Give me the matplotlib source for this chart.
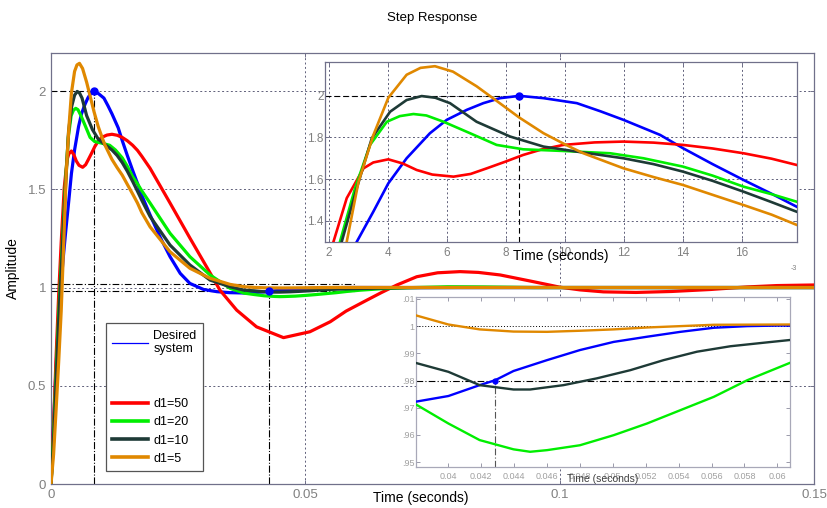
import numpy as np
import matplotlib
matplotlib.use('Agg')
import matplotlib.pyplot as plt
from matplotlib.lines import Line2D

plt.rcParams['font.family'] = ['Liberation Sans', 'DejaVu Sans']

# step responses (time in ms, amplitude)
t_blue = [0, 0.5, 1.0, 1.5, 2.0, 2.5, 2.94, 3.5, 4.01, 4.63, 5.42, 5.99, 6.67, 7.23, 7.8, 8.45,
          9.27, 10.4, 11.2, 11.98, 13.22, 14.0, 15.0, 16.05, 17.0, 17.85, 19.47, 21.4, 23.4,
          25.4, 27.3, 30, 32.6, 35, 38, 40, 41.9, 42.84, 43.96, 46, 48, 50.05, 52.08, 54.11,
          56.14, 58.17, 60, 70, 150]
y_blue = [0, 0.3, 0.6, 0.85, 1.03, 1.18, 1.30, 1.444, 1.58, 1.70, 1.82, 1.884, 1.932, 1.964,
          1.988, 1.999, 1.988, 1.964, 1.925, 1.884, 1.812, 1.748, 1.672, 1.596, 1.53, 1.468,
          1.37, 1.259, 1.157, 1.072, 1.021, 0.99, 0.979, 0.974, 0.9722, 0.9743, 0.9783, 0.9801,
          0.9835, 0.9875, 0.9912, 0.9942, 0.9961, 0.9979, 0.9994, 1.0, 1.0002, 1.0, 1.0]

t_red = [0, 0.5, 1.0, 1.5, 2.0, 2.15, 2.6, 3.17, 3.5, 4.01, 4.5, 4.97, 5.5, 6.22, 6.8, 7.35,
         8.0, 8.58, 9.2, 9.94, 11.0, 11.98, 13.0, 14.0, 15.0, 16.05, 17.0, 17.85, 19.47, 23.4,
         27.3, 31.26, 33.2, 36.5, 40.4, 45.7, 50.9, 54.9, 58, 62.1, 65, 68, 71.9, 76, 80.4, 84,
         88.3, 94.8, 100, 104, 108.6, 115, 122, 129.6, 136.8, 142.7, 150]
y_red = [0, 0.3, 0.65, 0.96, 1.23, 1.30, 1.509, 1.652, 1.68, 1.695, 1.675, 1.644, 1.622, 1.612,
         1.625, 1.652, 1.685, 1.716, 1.742, 1.764, 1.776, 1.78, 1.775, 1.764, 1.747, 1.724,
         1.698, 1.668, 1.607, 1.43, 1.252, 1.075, 0.987, 0.885, 0.80, 0.745, 0.775, 0.826,
         0.88, 0.936, 0.975, 1.013, 1.055, 1.075, 1.081, 1.077, 1.064, 1.03, 1.002, 0.988,
         0.978, 0.975, 0.98, 0.99, 1.003, 1.01, 1.013]

t_green = [0, 0.5, 1.0, 1.5, 2.0, 2.37, 2.88, 3.39, 3.96, 4.4, 4.86, 5.3, 5.88, 6.78, 7.68, 8.58,
           9.94, 11.53, 12.66, 14.0, 15.0, 16.05, 17.0, 17.85, 19.47, 23.4, 27.3, 31.26, 35.2,
           38, 40, 41.9, 43.96, 44.97, 46, 48, 50.05, 52.08, 54.11, 56.14, 58.17, 60.77, 65, 70,
           78, 85, 95, 150]
y_green = [0, 0.25, 0.56, 0.86, 1.12, 1.30, 1.556, 1.764, 1.875, 1.902, 1.912, 1.905, 1.875,
           1.82, 1.764, 1.743, 1.735, 1.724, 1.70, 1.66, 1.617, 1.564, 1.528, 1.492, 1.43,
           1.276, 1.157, 1.064, 0.996, 0.9713, 0.9642, 0.9581, 0.9547, 0.9538, 0.9544, 0.9562,
           0.9599, 0.9642, 0.9691, 0.974, 0.9801, 0.9865, 0.994, 0.999, 1.004, 1.003, 1.0, 1.0]

t_dark = [0, 0.5, 1.0, 1.5, 2.0, 2.43, 2.94, 3.45, 4.07, 4.63, 5.14, 5.6, 6.1, 7.0, 8.14, 9.27,
          10.4, 11.98, 13.0, 14.0, 15.0, 16.05, 17.0, 17.85, 19.47, 23.4, 27.3, 31.26, 35.2, 38,
          40, 41.9, 43.96, 44.97, 47, 49.03, 51.06, 53.09, 55.12, 57.15, 59.18, 60.77, 65, 70,
          80, 150]
y_dark = [0, 0.22, 0.52, 0.82, 1.08, 1.30, 1.556, 1.796, 1.923, 1.979, 1.998, 1.99, 1.964,
          1.875, 1.804, 1.756, 1.732, 1.70, 1.672, 1.636, 1.592, 1.54, 1.49, 1.444, 1.362,
          1.216, 1.115, 1.038, 1.004, 0.9865, 0.9832, 0.9783, 0.9767, 0.9767, 0.9783, 0.9808,
          0.9838, 0.9875, 0.9906, 0.9926, 0.9939, 0.9949, 0.997, 0.999, 1.0, 1.0]

t_orange = [0, 0.5, 1.0, 1.5, 2.0, 2.6, 3.0, 3.5, 4.01, 4.63, 5.1, 5.59, 6.2, 7.0, 7.68, 8.45,
            9.27, 10.06, 10.62, 11.98, 13.0, 14.0, 15.0, 16.05, 17.0, 17.85, 19.47, 23.4, 27.3,
            31.26, 35.2, 38, 40, 41.9, 43.96, 46, 48, 50.05, 52.08, 54.11, 56.14, 60.77, 70, 150]
y_orange = [0, 0.15, 0.38, 0.62, 0.88, 1.30, 1.588, 1.81, 1.99, 2.10, 2.133, 2.141, 2.115,
            2.045, 1.975, 1.895, 1.82, 1.762, 1.724, 1.652, 1.61, 1.572, 1.525, 1.476, 1.43,
            1.381, 1.309, 1.182, 1.098, 1.047, 1.016, 1.004, 1.0006, 0.9988, 0.998, 0.9979,
            0.9983, 0.9988, 0.9995, 1.0, 1.0005, 1.0006, 1.0003, 1.0]

# peak and settling points of the desired system
peak_t, peak_y = 8.45, 2.0
settle_t, settle_y = 42.84, 0.98

curves = [
    (t_red, y_red, '#ff0000', 'd1=50'),
    (t_green, y_green, '#00ee00', 'd1=20'),
    (t_dark, y_dark, '#1e3a36', 'd1=10'),
    (t_orange, y_orange, '#e08800', 'd1=5'),
]
blue = '#0000ff'
spine_c = '#70708a'
grid_c = '#60607a'
tick_c = '#808080'

fig = plt.figure(figsize=(8.27, 5.08), dpi=100)


def style(ax, size):
    for s in ax.spines.values():
        s.set_color(spine_c)
        s.set_linewidth(0.9)
    ax.tick_params(direction='in', top=True, right=True, colors=spine_c,
                   labelcolor=tick_c, labelsize=size, length=3, width=0.7)


def draw_curves(ax, scale, lw):
    ax.plot(np.array(t_blue) * scale, y_blue, color=blue, lw=lw, zorder=3)
    for t, y, c, lab in curves:
        ax.plot(np.array(t) * scale, y, color=c, lw=lw, zorder=3)


# ---- main axes ----
ax = fig.add_axes([0.0617, 0.0472, 0.9226, 0.849])
style(ax, 9.5)
draw_curves(ax, 1e-3, 2.3)
ax.set_xlim(0, 0.15)
ax.set_ylim(0, 2.195)
ax.set_xticks([0, 0.05, 0.1, 0.15])
ax.set_xticklabels(['0', '0.05', '0.1', '0.15'])
ax.set_yticks([0, 0.5, 1, 1.5, 2])
ax.set_yticklabels(['0', '0.5', '1', '1.5', '2'])
ax.grid(True, color=grid_c, ls=(0, (2, 2.5)), lw=0.7)
ax.set_title('Step Response', fontsize=9.5, pad=23)
ax.set_xlabel('Time (seconds)', fontsize=10)
ax.xaxis.set_label_coords(0.485, -0.016)
ax.set_ylabel('Amplitude', fontsize=10)
ax.yaxis.set_label_coords(-0.041, 0.5)

pk = peak_t * 1e-3
st = settle_t * 1e-3
ax.plot([0, pk], [peak_y, peak_y], color='k', ls=(0, (5, 3)), lw=0.8, zorder=2)
ax.plot([pk, pk], [0, peak_y], color='k', ls='-.', lw=0.8, zorder=2)
ax.plot([st, st], [0, settle_y], color='k', ls='-.', lw=0.8, zorder=2)
ax.plot([0, 0.06], [1.02, 1.02], color='k', ls=(0, (6, 2, 1, 2)), lw=0.8, zorder=2)
ax.plot([0, 0.06], [0.98, 0.98], color='k', ls=(0, (6, 2, 1, 2)), lw=0.8, zorder=2)
ax.plot(pk, peak_y, 'o', color=blue, ms=5, zorder=4)
ax.plot(st, settle_y, 'o', color=blue, ms=5, zorder=4)

handles = [Line2D([], [], color=blue, lw=0.9),
           Line2D([], [], color='none'), Line2D([], [], color='none')]
labels = ['Desired\nsystem', ' ', ' ']
for t, y, c, lab in curves:
    handles.append(Line2D([], [], color=c, lw=2.6))
    labels.append(lab)
leg = ax.legend(handles, labels, loc='lower left', bbox_to_anchor=(0.072, 0.03),
                fontsize=9, fancybox=False, edgecolor='#555555', framealpha=1,
                handlelength=2.9, handletextpad=0.4, labelspacing=0.5,
                borderpad=0.5, borderaxespad=0)
leg.get_frame().set_linewidth(0.9)

# ---- inset around the peaks (time in ms) ----
ax1 = fig.add_axes([0.393, 0.5236, 0.5707, 0.3543])
style(ax1, 8.5)
draw_curves(ax1, 1.0, 1.9)
ax1.set_xlim(1.864, 17.86)
ax1.set_ylim(1.299, 2.161)
ax1.set_xticks([2, 4, 6, 8, 10, 12, 14, 16])
ax1.set_yticks([1.4, 1.6, 1.8, 2.0])
ax1.set_yticklabels(['1.4', '1.6', '1.8', '2'])
ax1.tick_params(axis='y', pad=1)
ax1.grid(True, color=grid_c, ls=(0, (2, 2.5)), lw=0.7)
ax1.plot([1.864, peak_t], [peak_y, peak_y], color='k', ls=(0, (5, 3)), lw=0.8, zorder=2)
ax1.plot([peak_t, peak_t], [1.299, peak_y], color='k', ls=(0, (5, 3)), lw=0.8, zorder=2)
ax1.plot(peak_t, peak_y, 'o', color=blue, ms=5, zorder=4)
ax1.set_xlabel('Time (seconds)', fontsize=10, labelpad=-7)
ax1.text(1.0, -0.13, '-3', transform=ax1.transAxes, fontsize=5, color=tick_c,
         ha='right', va='top')

# ---- inset around settling ----
ax2 = fig.add_axes([0.503, 0.0807, 0.4522, 0.3346])
style(ax2, 6.5)
ax2.tick_params(colors='#9a9aaa', labelcolor='#a0a0a0')
for s in ax2.spines.values():
    s.set_color('#a8a8b8')
draw_curves(ax2, 1e-3, 1.7)
ax2.set_xlim(0.03803, 0.06077)
ax2.set_ylim(0.9482, 1.0107)
ax2.set_xticks([0.04, 0.042, 0.044, 0.046, 0.048, 0.05, 0.052, 0.054, 0.056, 0.058, 0.06])
ax2.set_xticklabels(['0.04', '0.042', '0.044', '0.046', '0.048', '0.05', '0.052', '0.054',
                     '0.056', '0.058', '0.06'])
ax2.set_yticks([0.95, 0.96, 0.97, 0.98, 0.99, 1.0, 1.01])
ax2.set_yticklabels(['.95', '.96', '.97', '.98', '.99', '1', '.01'])
ax2.tick_params(axis='y', pad=1)
ax2.axhline(1.0, color='k', ls=(0, (1, 2)), lw=0.7, zorder=2)
ax2.axhline(settle_y, color='k', ls=(0, (6, 2, 1, 2)), lw=0.8, zorder=2)
ax2.plot([st, st], [0.9482, settle_y], color='#555555', ls=(0, (6, 2, 1, 2)), lw=0.8, zorder=2)
ax2.plot(st, settle_y, 'o', color=blue, ms=3.5, zorder=4)
ax2.set_xlabel('Time (seconds)', fontsize=7.5, color='#404040', labelpad=-5)

fig.savefig('out.png', dpi=100)
